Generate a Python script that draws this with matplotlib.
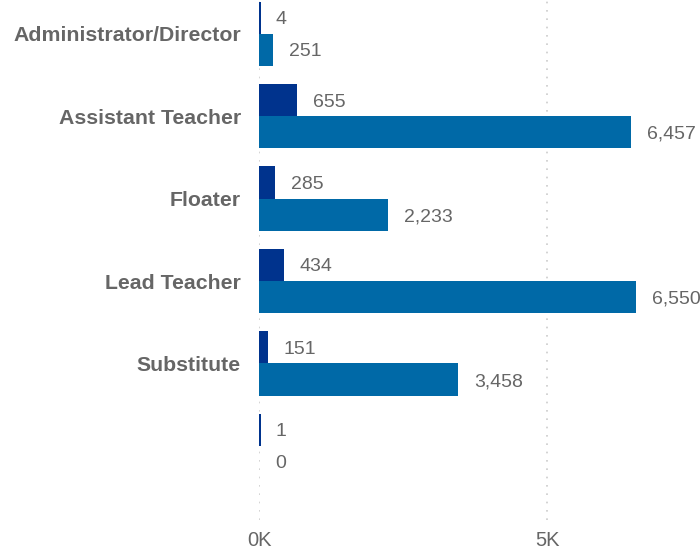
import matplotlib
matplotlib.use("Agg")
import matplotlib.pyplot as plt
from matplotlib.ticker import FixedLocator
from matplotlib.transforms import offset_copy

categories = ["Administrator/Director", "Assistant Teacher", "Floater",
              "Lead Teacher", "Substitute", ""]
series_dark = [4, 655, 285, 434, 151, 1]
series_blue = [251, 6457, 2233, 6550, 3458, 0]
tick_values = [0, 5000]
tick_labels = ["0K", "5K"]

dark_color = "#00338D"
blue_color = "#0069A7"
text_color = "#666666"

plt.rcParams["font.family"] = ["Liberation Sans", "DejaVu Sans"]

fig = plt.figure(figsize=(7, 5.5), dpi=100)
ax = fig.add_axes([0.37, 0.0545, 0.63, 0.9455])

h = 0.39
ypos = list(range(len(categories)))
bars_dark = ax.barh([y - h / 2 for y in ypos], series_dark, height=h,
                    color=dark_color, zorder=3)
bars_blue = ax.barh([y + h / 2 for y in ypos], series_blue, height=h,
                    color=blue_color, zorder=3)

# minimum visible width for tiny non-zero bars
for bars, vals, col in ((bars_dark, series_dark, dark_color),
                        (bars_blue, series_blue, blue_color)):
    for p, v in zip(bars, vals):
        if 0 < v < 30:
            p.set_edgecolor(col)
            p.set_linewidth(1.6)
            p.set_antialiased(False)

ax.set_xlim(0, 7656)
ax.set_ylim(5.9, -0.41)

trans = offset_copy(ax.transData, fig=fig, x=16, y=-2, units="dots")
for y, v in zip(ypos, series_dark):
    ax.text(v, y - h / 2, f"{v:,}", transform=trans, va="center", ha="left",
            fontsize=14, color=text_color)
for y, v in zip(ypos, series_blue):
    ax.text(v, y + h / 2, f"{v:,}", transform=trans, va="center", ha="left",
            fontsize=14, color=text_color)

ax.set_yticks(ypos)
ax.set_yticklabels(categories, fontsize=15.3, fontweight="bold", color=text_color)
ax.tick_params(axis="y", length=0, pad=13)

ax.xaxis.set_major_locator(FixedLocator(tick_values))
ax.set_xticklabels(tick_labels, fontsize=14.5, color=text_color)
ax.tick_params(axis="x", length=0, pad=8)

for v in tick_values:
    ax.axvline(v, color="#cccccc", linestyle=(0, (1, 4)), linewidth=1.2, zorder=1)

for s in ax.spines.values():
    s.set_visible(False)

fig.savefig("out.png", dpi=100)
